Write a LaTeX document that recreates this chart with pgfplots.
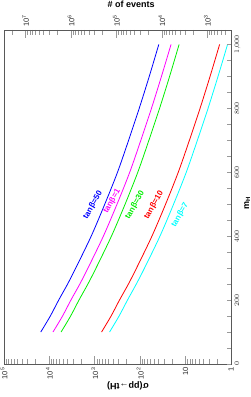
\documentclass[border=0pt]{standalone}
\usepackage{pgfplots}
\pgfplotsset{compat=1.18}
\usepackage{fontspec}
\setmainfont{Liberation Sans}
\definecolor{rblue}{RGB}{0,0,255}
\definecolor{rmag}{RGB}{255,0,255}
\definecolor{rgreen}{RGB}{0,238,0}
\definecolor{rred}{RGB}{255,0,0}
\definecolor{rcyan}{RGB}{0,255,255}
\begin{document}
\begin{tikzpicture}[rotate=90, transform shape]
\pgfplotsset{
  base/.style={scale only axis, width=334pt, height=227pt, at={(0,0)}, anchor=south west,
    xmin=0, xmax=1045,
    tick label style={font=\fontsize{7.5}{8}\selectfont, black!85},
    label style={font=\bfseries\fontsize{9}{10}\selectfont},
    axis line style={black!65, line width=0.6pt},
    major tick style={black!40, line width=0.6pt},
    minor tick style={black!40, line width=0.6pt},
  }
}
% sigma axis with curves
\begin{axis}[base,
  ymode=log, ymin=1, ymax=1e5,
  xtick=\empty,
  ytick pos=left,
  major tick length=8pt, minor tick length=5pt,
  ytick={1,10,100,1000,10000,100000},
  yticklabels={1,10,10\textsuperscript{2},10\textsuperscript{3},10\textsuperscript{4},10\textsuperscript{5}},
  minor ytick={2,3,4,5,6,7,8,9,20,30,40,50,60,70,80,90,200,300,400,500,600,700,800,900,2000,3000,4000,5000,6000,7000,8000,9000,20000,30000,40000,50000,60000,70000,80000,90000},
  ylabel={σ(pp→tH)},
  ylabel style={at={(ticklabel cs:0.454)}, yshift=-5pt},
]
\addplot[rblue, line width=0.8pt, smooth] coordinates {(100,15490)(150,9550)(200,6240)(250,3980)(300,2630)(400,1200)(500,603)(600,316)(700,180)(800,105)(900,63.1)(1000,38.9)};
\addplot[rmag, line width=0.8pt, smooth] coordinates {(100,8340)(150,5140)(200,3360)(250,2140)(300,1416)(400,647)(500,324)(600,170)(700,96.8)(800,56.4)(900,34.0)(1000,20.9)};
\addplot[rgreen, line width=0.8pt, smooth] coordinates {(100,5530)(150,3410)(200,2230)(250,1422)(300,940)(400,430)(500,215)(600,113)(700,64.3)(800,37.4)(900,22.5)(1000,13.9)};
\addplot[rred, line width=0.8pt, smooth] coordinates {(100,710)(150,438)(200,286)(250,182)(300,120.5)(400,55.1)(500,27.6)(600,14.5)(700,8.24)(800,4.80)(900,2.89)(1000,1.78)};
\addplot[rcyan, line width=0.8pt, smooth] coordinates {(100,473)(150,292)(200,190.5)(250,122)(300,80.4)(400,36.7)(500,18.4)(600,9.66)(700,5.50)(800,3.20)(900,1.93)(1000,1.19)};
\node[rotate=-30, text=rblue, font=\bfseries\fontsize{8}{9}\selectfont] at (axis cs:497,1096) {tanβ=50};
\node[rotate=-30, text=rmag, font=\bfseries\fontsize{8}{9}\selectfont] at (axis cs:509,417) {tanβ=1};
\node[rotate=-30, text=rgreen, font=\bfseries\fontsize{8}{9}\selectfont] at (axis cs:497,130) {tanβ=30};
\node[rotate=-30, text=rred, font=\bfseries\fontsize{8}{9}\selectfont] at (axis cs:497,50) {tanβ=10};
\node[rotate=-30, text=rcyan, font=\bfseries\fontsize{8}{9}\selectfont] at (axis cs:466,13.3) {tanβ=7};
\end{axis}
% m_H axis
\begin{axis}[base,
  ymin=0, ymax=1,
  hide y axis,
  axis x line*=bottom,
  major tick length=4pt, minor tick length=4pt,
  xtick={0,200,400,600,800,1000},
  minor xtick={50,100,150,250,300,350,450,500,550,650,700,750,850,900,950},
  xlabel={m\textsubscript{H}},
  xlabel style={at={(ticklabel cs:0.482)}, yshift=3pt},
]
\end{axis}
% events axis
\begin{axis}[base,
  ymode=log, ymin=300, ymax=3e7,
  hide x axis,
  axis y line*=right,
  major tick length=8pt, minor tick length=5pt,
  ytick={1000,10000,100000,1000000,10000000},
  yticklabels={10\textsuperscript{3},10\textsuperscript{4},10\textsuperscript{5},10\textsuperscript{6},10\textsuperscript{7}},
  minor ytick={400,500,600,700,800,900,2000,3000,4000,5000,6000,7000,8000,9000,20000,30000,40000,50000,60000,70000,80000,90000,200000,300000,400000,500000,600000,700000,800000,900000,2000000,3000000,4000000,5000000,6000000,7000000,8000000,9000000,20000000},
  ylabel={\# of events},
  ylabel style={at={(ticklabel cs:0.44)}, rotate=180, anchor=south},
]
\end{axis}
\pgfresetboundingbox
\useasboundingbox (-33pt,-19pt) rectangle (364pt,231pt);
\end{tikzpicture}
\end{document}
